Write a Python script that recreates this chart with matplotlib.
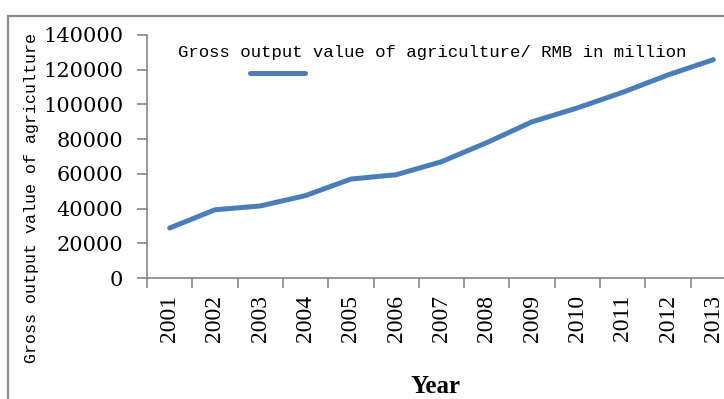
import matplotlib
matplotlib.use("Agg")
import matplotlib.pyplot as plt
from matplotlib.lines import Line2D
from matplotlib.patches import Rectangle
from matplotlib.ticker import FixedLocator

years = ["2001", "2002", "2003", "2004", "2005", "2006", "2007",
         "2008", "2009", "2010", "2011", "2012", "2013"]
values = [28800, 39300, 41500, 47500, 57000, 59500, 67000,
          78000, 90000, 98000, 107000, 117000, 125800]
yticks = [0, 20000, 40000, 60000, 80000, 100000, 120000, 140000]
series_label = "Gross output value of agriculture/ RMB in million"
ylabel = "Gross output value of agriculture"
xlabel = "Year"

W, H = 724, 399
fig = plt.figure(figsize=(W / 100, H / 100), dpi=100)
fig.patch.set_facecolor("white")

# outer chart-area frame (cropped at right and bottom)
fig.patches.append(Rectangle((8 / W, -0.1), 1.2, 0.1 + 1 - 16 / H,
                             transform=fig.transFigure, fill=False,
                             edgecolor="#8a8a8a", linewidth=1.6))

ax_left, ax_bottom = 147 / W, (H - 278) / H
ax_w, ax_h = 589 / W, 243 / H
ax = fig.add_axes([ax_left, ax_bottom, ax_w, ax_h])

blue = "#4a7ebb"
x = list(range(len(years)))
ax.plot(x, values, color=blue, linewidth=3.6, solid_capstyle="round",
        solid_joinstyle="round", clip_on=False)

ax.set_xlim(-0.5, len(years) - 0.5)
ax.set_ylim(0, 140000)
ax.set_yticks(yticks)
ax.set_yticklabels([str(v) for v in yticks], fontfamily="DejaVu Serif",
                   fontsize=15)
ax.set_xticks(x)
ax.set_xticklabels(years, rotation=90, fontfamily="Liberation Serif",
                   fontsize=17)
ax.xaxis.set_minor_locator(FixedLocator([i - 0.5 for i in range(len(years) + 1)]))
ax.tick_params(axis="x", which="major", length=0, pad=12)
ax.tick_params(axis="x", which="minor", length=7, width=1.2, color="#868686",
               direction="out")
ax.tick_params(axis="y", which="major", length=7, width=1.2, color="#868686",
               direction="out", pad=10)

for s in ("top", "right"):
    ax.spines[s].set_visible(False)
for s in ("left", "bottom"):
    ax.spines[s].set_color("#868686")
    ax.spines[s].set_linewidth(1.2)

ax.set_ylabel(ylabel, fontfamily="Liberation Mono", fontsize=12)
ax.yaxis.set_label_coords(-0.183, 0.33)
ax.set_xlabel(xlabel, fontfamily="Liberation Serif", fontsize=18,
              fontweight="bold")
ax.xaxis.set_label_coords(0.489, -0.399)

# legend
fig.text(178 / W, 1 - 52 / H, series_label, fontfamily="Liberation Mono",
         fontsize=12.5, va="center", ha="left")
fig.lines.append(Line2D([250 / W, 305 / W], [1 - 73 / H, 1 - 73 / H],
                        transform=fig.transFigure, color=blue, linewidth=3.6,
                        solid_capstyle="round"))

fig.savefig("out.png", dpi=100)
